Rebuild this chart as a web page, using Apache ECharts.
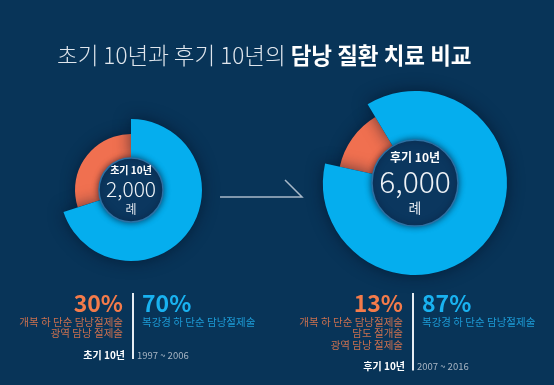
<!DOCTYPE html>
<html><head><meta charset="utf-8">
<script src="https://cdn.jsdelivr.net/npm/echarts@6/dist/echarts.min.js"></script>
<style>html,body{margin:0;padding:0;background:#083458;}#c{width:554px;height:385px;}</style>
</head><body><div id="c"></div>
<script>
const periods = ['초기 10년', '후기 10년'];
const years = ['1997 ~ 2006', '2007 ~ 2016'];
const totals = [2000, 6000];
const openShare = [30, 13];
const lapShare = [70, 87];
const openLabels = [['개복 하 단순 담낭절제술', '광역 담낭 절제술'], ['개복 하 단순 담낭절제술', '담도 절개술', '광역 담낭 절제술']];
const lapLabel = '복강경 하 단순 담낭절제술';
const unit = '례';

const FONT = "'Noto Sans CJK KR', 'Noto Sans', sans-serif";
const BLUE = '#05aeee', ORANGE = '#f07050', BG = '#083458';

// layout per donut
const geo = [
  { center: [131, 190], inner: 32, orange: 56, outer: 71, start: 90, lab: [10, 21, 12], lineX: 133, lineTop: 293 },
  { center: [415, 183], inner: 43, orange: 77, outer: 92, start: 121, lab: [12, 30, 14], lineX: 413, lineTop: 293 }
];

const series = [];
const graphic = [];
periods.forEach((p, i) => {
  const g = geo[i];
  // orange (open surgery) ring
  series.push({
    type: 'pie', silent: true, center: g.center, radius: [g.inner, g.orange], startAngle: g.start,
    label: { show: false }, labelLine: { show: false }, animation: false,
    data: [
      { value: lapShare[i], itemStyle: { color: 'rgba(0,0,0,0)' } },
      { value: openShare[i], itemStyle: { color: ORANGE, shadowBlur: 14, shadowColor: 'rgba(0,15,35,0.55)' } }
    ]
  });
  // blue (laparoscopic) ring
  series.push({
    type: 'pie', silent: true, center: g.center, radius: [g.inner, g.outer], startAngle: g.start,
    label: { show: false }, labelLine: { show: false }, animation: false,
    data: [
      { value: lapShare[i], itemStyle: { color: BLUE, shadowBlur: 16, shadowColor: 'rgba(0,15,35,0.6)' } },
      { value: openShare[i], itemStyle: { color: 'rgba(0,0,0,0)' } }
    ]
  });
  // inner disc with total
  series.push({
    type: 'pie', silent: true, center: g.center, radius: [0, g.inner], animation: false,
    labelLine: { show: false },
    label: {
      show: true, position: 'center',
      formatter: () => '{a|' + p + '}\n{b|' + totals[i].toLocaleString('en-US') + '}\n{c|' + unit + '}',
      rich: {
        a: { fontFamily: FONT, fontSize: g.lab[0], fontWeight: 'bold', color: '#ffffff', lineHeight: g.lab[0] + 4 },
        b: { fontFamily: FONT, fontSize: g.lab[1], fontWeight: 300, color: '#eef2f6', lineHeight: g.lab[1] + 3 },
        c: { fontFamily: FONT, fontSize: g.lab[2], color: '#dde4ec', lineHeight: g.lab[2] + 4 }
      }
    },
    data: [{ value: totals[i], itemStyle: { color: '#0b375f', borderColor: '#2c70a3', borderWidth: 1.5, shadowBlur: 6, shadowColor: 'rgba(0,10,30,0.6)' } }]
  });

  // bottom legend block
  const x = g.lineX;
  const descLines = openLabels[i];
  const lineBottom = g.lineTop + 43 + descLines.length * 11.5;
  graphic.push({ type: 'line', shape: { x1: x, y1: g.lineTop, x2: x, y2: lineBottom }, style: { stroke: '#e6ecf2', lineWidth: 2 } });
  graphic.push({ type: 'text', style: { text: openShare[i] + '%', x: x - 10, y: 303, textAlign: 'right', textVerticalAlign: 'middle', fill: '#f47b4a', font: 'bold 23px ' + FONT } });
  graphic.push({ type: 'text', style: { text: lapShare[i] + '%', x: x + 9, y: 303, textAlign: 'left', textVerticalAlign: 'middle', fill: '#19b2f0', font: 'bold 23px ' + FONT } });
  descLines.forEach((t, k) => {
    graphic.push({ type: 'text', style: { text: t, x: x - 10, y: 322 + k * 11.5, textAlign: 'right', textVerticalAlign: 'middle', fill: '#c9704f', font: '10.5px ' + FONT } });
  });
  graphic.push({ type: 'text', style: { text: lapLabel, x: x + 9, y: 322, textAlign: 'left', textVerticalAlign: 'middle', fill: '#1d9bd6', font: '10.5px ' + FONT } });
  graphic.push({ type: 'text', style: { text: p, x: x - 8, y: lineBottom - 4, textAlign: 'right', textVerticalAlign: 'middle', fill: '#ffffff', font: 'bold 10px ' + FONT } });
  graphic.push({ type: 'text', style: { text: years[i], x: x + 4, y: lineBottom - 4, textAlign: 'left', textVerticalAlign: 'middle', fill: '#a9b6c4', font: '9.5px ' + FONT } });
});

// arrow between donuts
graphic.push({ type: 'polyline', shape: { points: [[220, 197], [302, 197], [285, 180]] }, style: { stroke: '#a8b8c8', lineWidth: 1.5, fill: null } });

const chart = echarts.init(document.getElementById('c'), null, { renderer: 'canvas' });
chart.setOption({
  backgroundColor: BG,
  animation: false,
  title: {
    left: 52, top: 39,
    text: '{a|초기 10년과 후기 10년의 }{b|담낭 질환 치료 비교}',
    textStyle: {
      rich: {
        a: { fontFamily: FONT, fontSize: 22.5, fontWeight: 300, color: '#dfe5ec' },
        b: { fontFamily: FONT, fontSize: 22.5, fontWeight: 'bold', color: '#ffffff' }
      }
    }
  },
  series: series,
  graphic: graphic
});
</script></body></html>
